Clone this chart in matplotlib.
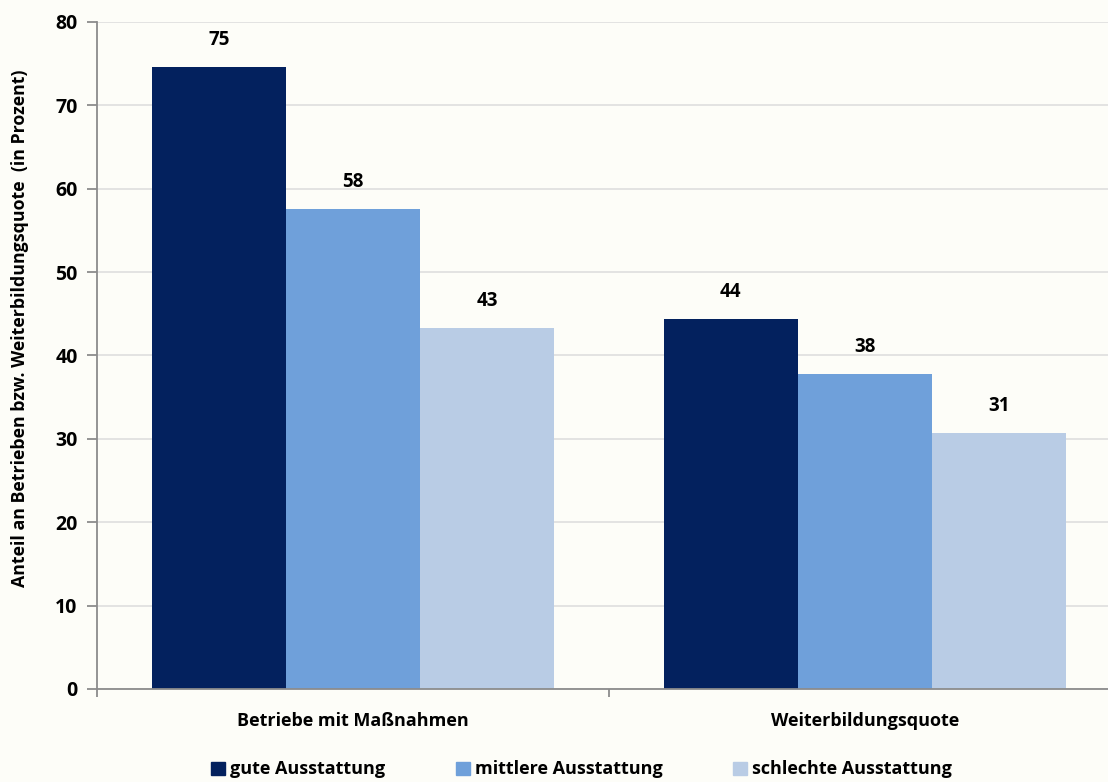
import numpy as np
import matplotlib.pyplot as plt
from matplotlib.patches import Patch

plt.rcParams['font.family'] = ['Open Sans', 'DejaVu Sans']
plt.rcParams['font.weight'] = 'bold'

# data
categories = ["Betriebe mit Maßnahmen", "Weiterbildungsquote"]
series = ["gute Ausstattung", "mittlere Ausstattung", "schlechte Ausstattung"]
gute = [74.6, 44.4]
mittlere = [57.6, 37.8]
schlechte = [43.3, 30.7]
yticks = [0, 10, 20, 30, 40, 50, 60, 70, 80]

colors = ["#03215e", "#6fa0da", "#b9cce5"]
bg = "#fdfdf8"

fig = plt.figure(figsize=(11.08, 7.82), dpi=100, facecolor=bg)
ax = fig.add_axes([0.0875, 0.119, 0.924, 0.853], facecolor=bg)

x = np.arange(len(categories))
width = 0.262
for i, (vals, col) in enumerate(zip([gute, mittlere, schlechte], colors)):
    pos = x + (i - 1) * width
    ax.bar(pos, vals, width=width, color=col, zorder=2)
    for p, v in zip(pos, vals):
        ax.text(p, v + 2.0, f"{v:.0f}", ha="center", va="bottom",
                fontsize=13.5, fontweight="bold")

ax.set_xlim(-0.5, 1.5)
ax.set_ylim(0, 80)
ax.set_yticks(yticks)
ax.yaxis.grid(True, color="#dedede", linewidth=1.2, zorder=0)
ax.set_axisbelow(True)

for s in ["top", "right"]:
    ax.spines[s].set_visible(False)
for s in ["left", "bottom"]:
    ax.spines[s].set_color("#8c8c8c")
    ax.spines[s].set_linewidth(1.3)

ax.tick_params(axis="y", length=7, width=1.3, color="#8c8c8c",
               labelsize=14, pad=7)
ax.set_xticks([-0.5, 0.5, 1.5])
ax.set_xticklabels([])
ax.tick_params(axis="x", length=6, width=1.3, color="#8c8c8c", direction="out")
for c, label in zip(x, categories):
    ax.text(c, -3.9, label, ha="center", va="center", fontsize=13,
            fontweight="bold", transform=ax.transData)

ax.set_ylabel("Anteil an Betrieben bzw. Weiterbildungsquote  (in Prozent)",
              fontsize=12.8, fontweight="bold")
ax.yaxis.set_label_coords(-0.066, 0.54)

handles = [Patch(color=c, label=s) for c, s in zip(colors, series)]
fig.legend(handles=handles, loc="center", bbox_to_anchor=(0.525, 0.016),
           ncol=3, frameon=False, fontsize=13, handlelength=0.75,
           handleheight=0.75, handletextpad=0.3, columnspacing=3.9)

fig.savefig("out.png", dpi=100, facecolor=bg)
